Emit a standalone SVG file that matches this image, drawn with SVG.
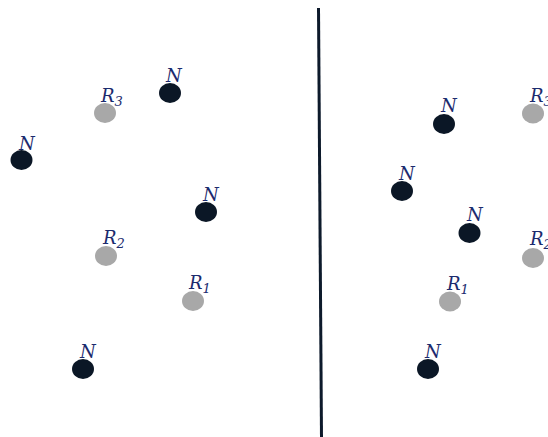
<svg xmlns="http://www.w3.org/2000/svg" width="548" height="437" viewBox="0 0 548 437">
  <style>
    .n { fill: #0b1726; }
    .r { fill: #a8a8a8; }
    .lbl { font-family: "DejaVu Serif", "Liberation Serif", serif; font-style: italic; font-size: 18px; fill: #1c2b6e; }
    .sub { font-size: 13px; }
    .divider { stroke: #0d1a2b; stroke-width: 3; fill: none; }
  </style>
  <rect width="548" height="437" fill="#ffffff"/>

  <g id="connectors">
    <line class="divider" x1="318.5" y1="8" x2="321.5" y2="437"/>
  </g>

  <!-- left panel -->
  <g id="L-N1"><ellipse class="n" cx="170" cy="93" rx="11" ry="10"/><text class="lbl" x="166" y="82">N</text></g>
  <g id="L-R3"><ellipse class="r" cx="105" cy="113" rx="11" ry="10"/><text class="lbl" x="101" y="102">R<tspan class="sub" dy="4">3</tspan></text></g>
  <g id="L-N2"><ellipse class="n" cx="21.5" cy="160" rx="11" ry="10"/><text class="lbl" x="19" y="150">N</text></g>
  <g id="L-N3"><ellipse class="n" cx="206" cy="212" rx="11" ry="10"/><text class="lbl" x="203" y="201">N</text></g>
  <g id="L-R2"><ellipse class="r" cx="106" cy="256" rx="11" ry="10"/><text class="lbl" x="103" y="244">R<tspan class="sub" dy="4">2</tspan></text></g>
  <g id="L-R1"><ellipse class="r" cx="193" cy="301" rx="11" ry="10"/><text class="lbl" x="189" y="289">R<tspan class="sub" dy="4">1</tspan></text></g>
  <g id="L-N4"><ellipse class="n" cx="83" cy="369" rx="11" ry="10"/><text class="lbl" x="80" y="358">N</text></g>

  <!-- right panel -->
  <g id="R-N1"><ellipse class="n" cx="444" cy="124" rx="11" ry="10"/><text class="lbl" x="441" y="112">N</text></g>
  <g id="R-R3"><ellipse class="r" cx="533" cy="113.5" rx="11" ry="10"/><text class="lbl" x="530" y="102">R<tspan class="sub" dy="4">3</tspan></text></g>
  <g id="R-N2"><ellipse class="n" cx="402" cy="191" rx="11" ry="10"/><text class="lbl" x="399" y="180">N</text></g>
  <g id="R-N3"><ellipse class="n" cx="469.5" cy="233" rx="11" ry="10"/><text class="lbl" x="467" y="221">N</text></g>
  <g id="R-R2"><ellipse class="r" cx="533" cy="258" rx="11" ry="10"/><text class="lbl" x="530" y="245">R<tspan class="sub" dy="4">2</tspan></text></g>
  <g id="R-R1"><ellipse class="r" cx="450" cy="301.5" rx="11" ry="10"/><text class="lbl" x="447" y="290">R<tspan class="sub" dy="4">1</tspan></text></g>
  <g id="R-N4"><ellipse class="n" cx="428" cy="369" rx="11" ry="10"/><text class="lbl" x="425" y="358">N</text></g>
</svg>
